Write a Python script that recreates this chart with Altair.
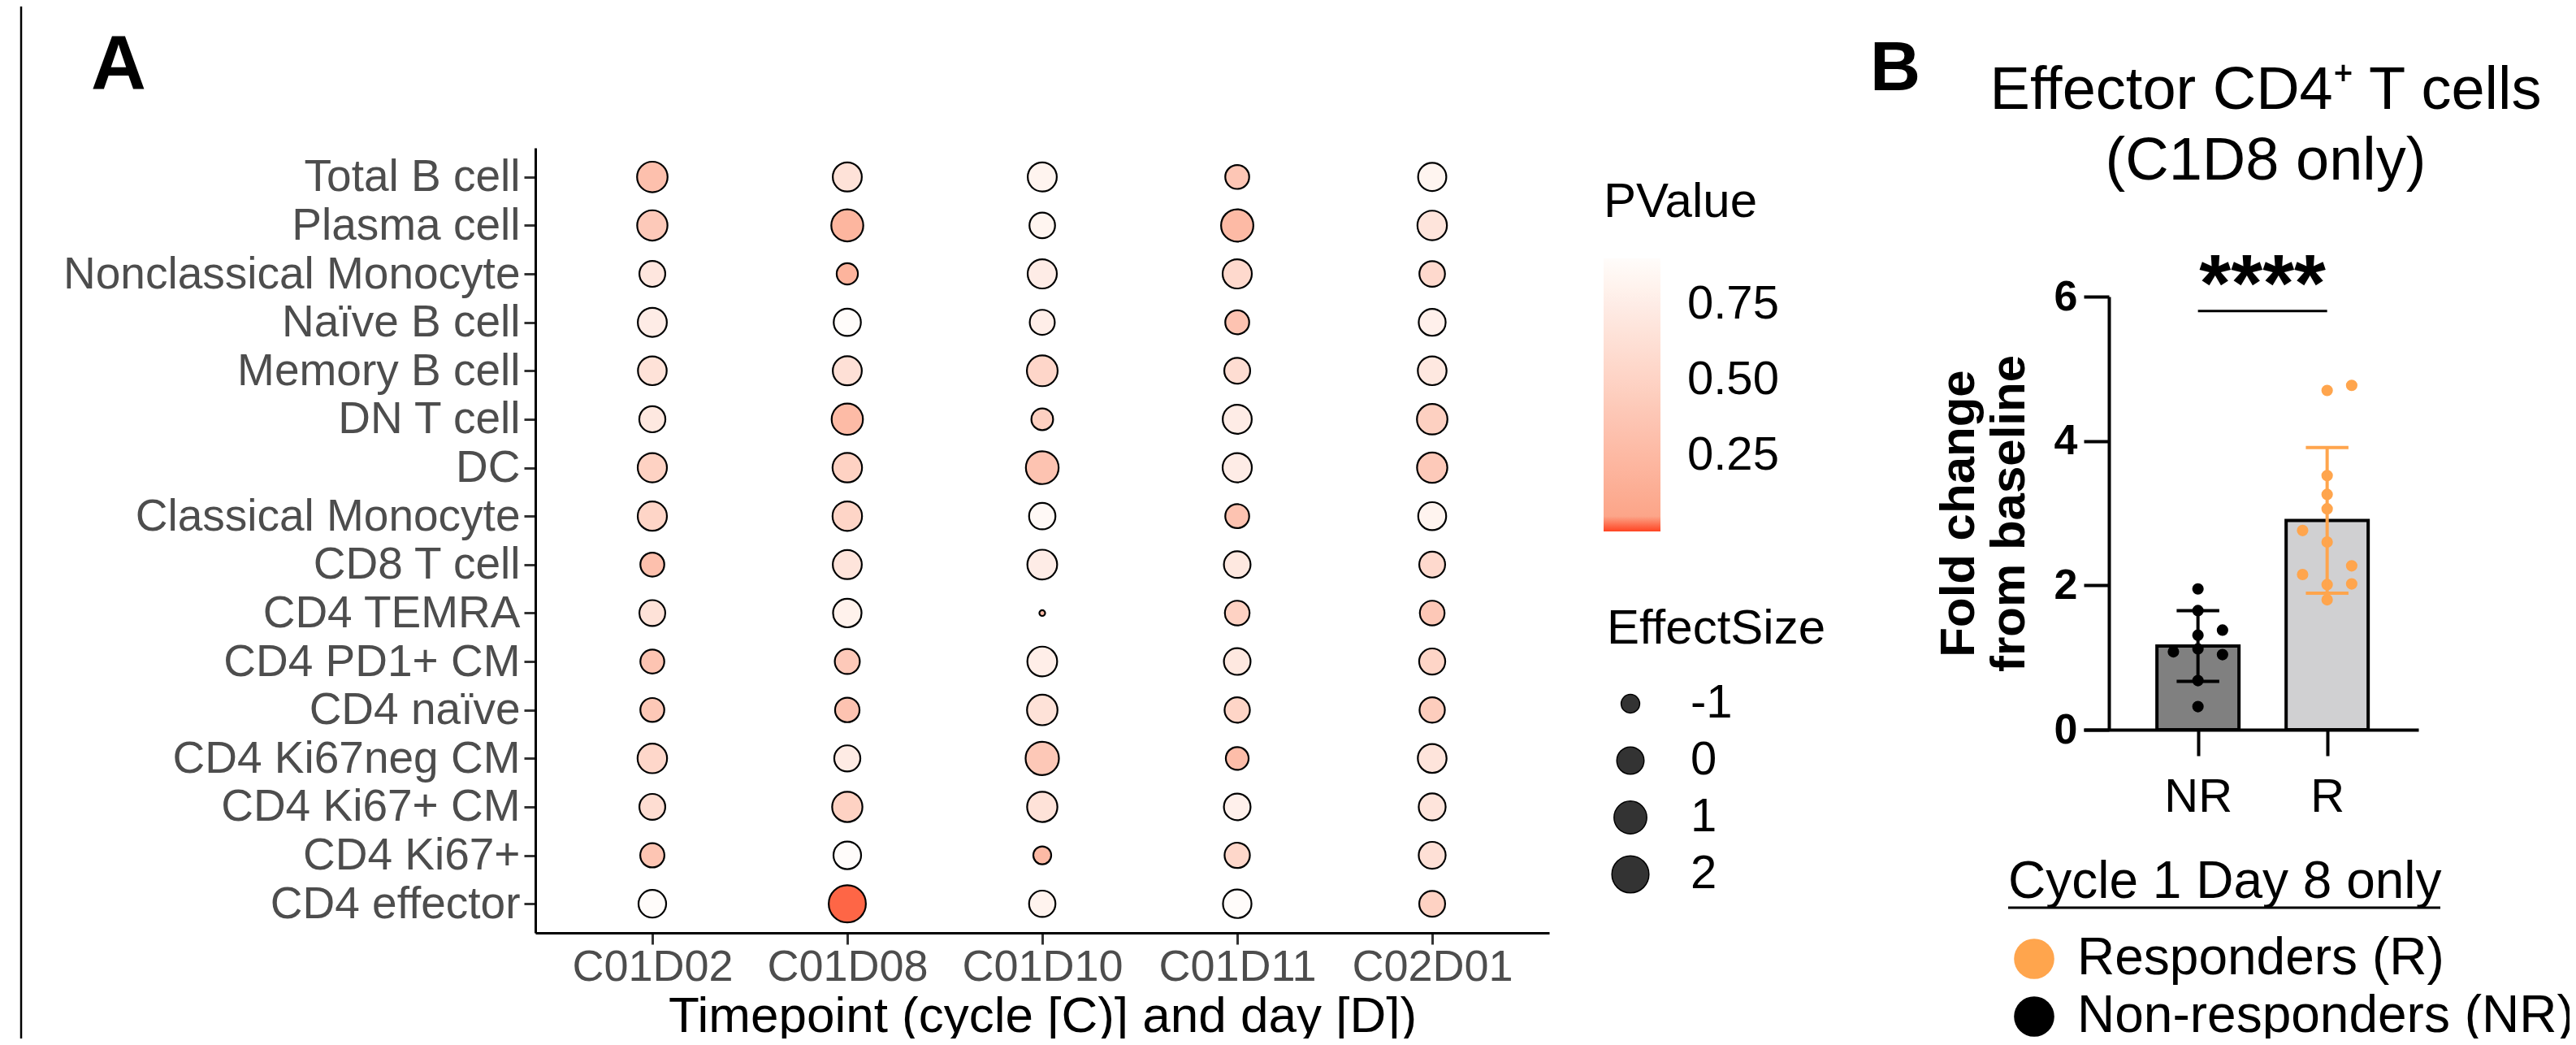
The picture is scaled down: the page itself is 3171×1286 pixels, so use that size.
import json
import altair as alt
import pandas as pd

FONT = "Liberation Sans"
NARROW = "'Liberation Sans Narrow', 'Liberation Sans', sans-serif"

# ---------------- Panel A data ----------------
cell_types = [
    "Total B cell", "Plasma cell", "Nonclassical Monocyte", "Naïve B cell",
    "Memory B cell", "DN T cell", "DC", "Classical Monocyte", "CD8 T cell",
    "CD4 TEMRA", "CD4 PD1+ CM", "CD4 naïve", "CD4 Ki67neg CM", "CD4 Ki67+ CM",
    "CD4 Ki67+", "CD4 effector",
]
timepoints = ["C01D02", "C01D08", "C01D10", "C01D11", "C02D01"]

pval_C01D02 = [0.32, 0.41, 0.69, 0.75, 0.65, 0.71, 0.49, 0.52, 0.32, 0.65, 0.36, 0.40, 0.54, 0.60, 0.37, 0.90]
pval_C01D08 = [0.65, 0.22, 0.20, 0.90, 0.63, 0.27, 0.49, 0.52, 0.67, 0.80, 0.41, 0.35, 0.74, 0.49, 0.90, 0.016]
pval_C01D10 = [0.82, 0.83, 0.75, 0.77, 0.53, 0.47, 0.35, 0.87, 0.75, 0.26, 0.77, 0.65, 0.40, 0.65, 0.26, 0.81]
pval_C01D11 = [0.38, 0.26, 0.56, 0.35, 0.60, 0.75, 0.75, 0.35, 0.71, 0.49, 0.71, 0.52, 0.29, 0.79, 0.54, 0.90]
pval_C02D01 = [0.83, 0.67, 0.56, 0.79, 0.71, 0.47, 0.41, 0.82, 0.56, 0.40, 0.52, 0.44, 0.67, 0.67, 0.63, 0.49]

eff_C01D02 = [0.55, 0.51, -0.20, 0.29, 0.24, -0.17, 0.32, 0.32, -0.46, -0.20, -0.46, -0.46, 0.37, -0.20, -0.43, 0.06]
eff_C01D08 = [0.29, 0.84, -0.76, -0.01, 0.29, 0.70, 0.37, 0.37, 0.29, 0.20, -0.32, -0.39, -0.17, 0.51, 0.06, 2.03]
eff_C01D10 = [0.29, -0.24, 0.32, -0.32, 0.60, -0.71, 1.00, -0.13, 0.42, -1.50, 0.42, 0.55, 1.12, 0.51, -1.05, -0.13]
eff_C01D11 = [-0.46, 0.90, 0.32, -0.46, -0.20, 0.29, 0.32, -0.46, -0.09, -0.36, -0.09, -0.28, -0.59, -0.09, -0.28, 0.20]
eff_C02D01 = [0.15, 0.37, -0.24, -0.05, 0.24, 0.55, 0.51, 0.11, -0.20, -0.36, -0.17, -0.28, 0.24, -0.05, -0.05, -0.20]

pval_ticks = [0.25, 0.50, 0.75]
size_legend_values = [-1, 0, 1, 2]
SIZE_MIN, SIZE_MAX = -1.5, 2.1
PV_MIN, PV_KNEE, PV_MAX = 0.0, 0.045, 0.902

# ---------------- Panel B data ----------------
groups = ["NR", "R"]
group_labels = ["Non-responders (NR)", "Responders (R)"]
bar_means = [1.16, 2.90]
bar_sds = [0.49, 1.01]
nr_values = [1.95, 1.65, 1.31, 1.38, 1.08, 1.12, 1.04, 0.68, 0.32]
nr_slots = [0, 0, 0, 1, -1, 0, 1, 0, 0]
r_values = [4.70, 4.77, 3.52, 3.26, 3.06, 2.76, 2.60, 2.27, 2.15, 2.01, 2.02, 1.80]
r_slots = [0, 1, 0, 0, 0, -1, 0, 1, -1, 0, 1, 0]
sig_text = "****"
sig_level = 5.8
y_ticks_B = [0, 2, 4, 6]

# ---------------- frames ----------------
recs = []
for tp, pl, el in zip(timepoints,
                      [pval_C01D02, pval_C01D08, pval_C01D10, pval_C01D11, pval_C02D01],
                      [eff_C01D02, eff_C01D08, eff_C01D10, eff_C01D11, eff_C02D01]):
    for ct, p, e in zip(cell_types, pl, el):
        recs.append({"Timepoint": tp, "CellType": ct, "PValue": p, "EffectSize": e})
dfA = pd.DataFrame(recs)

pts = []
for gi, vals, slots in [(0, nr_values, nr_slots), (1, r_values, r_slots)]:
    for v, s in zip(vals, slots):
        pts.append({"gidx": gi, "Group": group_labels[gi], "value": v, "slot": s})
dfPts = pd.DataFrame(pts)
dfBars = pd.DataFrame({"gidx": [0, 1], "grp": groups, "Group": group_labels,
                       "mean": bar_means, "sd": bar_sds})
dfSig = pd.DataFrame({"x1": [0], "x2": [1], "y": [sig_level], "t": [sig_text]})

# ---------------- Panel A ----------------
axXA = alt.Axis(title="Timepoint (cycle [C)] and day [D])", orient="bottom", offset=-130,
                labelAngle=0, labelFontSize=54, labelColor="#4D4D4D", labelPadding=1,
                tickSize=14, tickWidth=3, tickColor="#333333", domainColor="black",
                domainWidth=3, titleFontSize=62, titleFontWeight="normal",
                titleColor="black", titlePadding=3, grid=False, labelLimit=2000)
axYA = alt.Axis(title=None, orient="left", offset=-651, labelFontSize=55,
                labelColor="#4D4D4D", labelPadding=5, tickSize=14, tickWidth=3,
                tickColor="#333333", domainColor="black", domainWidth=3, grid=False,
                labelLimit=2000)

dots = alt.Chart(dfA).transform_calculate(
    es_shift=f"datum.EffectSize - ({SIZE_MIN})"
).mark_circle(stroke="black", strokeWidth=2.2, opacity=1).encode(
    x=alt.X("Timepoint:N", scale=alt.Scale(type="point", domain=timepoints,
                                           range=[651, 1899], padding=0.6), axis=axXA),
    y=alt.Y("CellType:N", scale=alt.Scale(type="point", domain=cell_types,
                                          range=[174, 1140], padding=0.6), axis=axYA),
    color=alt.Color("PValue:Q",
                    scale=alt.Scale(domain=[PV_MIN, PV_KNEE, PV_MAX],
                                    range=["#FF4422", "#FCA488", "#FFFCFA"],
                                    interpolate="rgb"),
                    legend=alt.Legend(title="PValue", orient="none", legendX=1966,
                                      legendY=212, direction="vertical",
                                      gradientLength=336, gradientThickness=70,
                                      gradientStrokeWidth=0, values=pval_ticks,
                                      format=".2f", labelFontSize=58, labelOffset=33,
                                      labelColor="black", titleFontSize=60,
                                      titleColor="black", titlePadding=38,
                                      labelOverlap=False)),
    size=alt.Size("es_shift:Q",
                  scale=alt.Scale(type="pow", exponent=0.75,
                                  domain=[0, SIZE_MAX - SIZE_MIN], range=[50, 2124],
                                  zero=False),
                  legend=alt.Legend(title="EffectSize", orient="none", legendX=1970,
                                    legendY=737,
                                    values=[v - SIZE_MIN for v in size_legend_values],
                                    labelExpr=f"'' + round(datum.value + ({SIZE_MIN}))",
                                    symbolFillColor="#333333", symbolStrokeColor="black",
                                    symbolStrokeWidth=1.5, symbolOpacity=1,
                                    symbolType="circle", labelFontSize=58,
                                    labelOffset=45, labelColor="black",
                                    titleFontSize=60, titleColor="black",
                                    titlePadding=32, rowPadding=12)),
)

# ---------------- Panel B ----------------
xB = alt.Scale(domain=[-0.853, 1.675], range=[2557, 2969], nice=False, zero=False)
yB = alt.Scale(domain=[0, 6], range=[890, 357], nice=False, zero=False)
axXB = alt.Axis(values=[0, 1], labelExpr=json.dumps(groups) + "[datum.value]",
                orient="bottom", offset=-380, tickSize=32, tickWidth=4, tickColor="black",
                domainColor="black", domainWidth=4, labelFontSize=58, labelColor="black",
                labelPadding=22, labelFlush=False, title=None, grid=False)
axYB = alt.Axis(values=y_ticks_B, orient="left", offset=-2588, tickSize=31, tickWidth=4,
                tickColor="black", domainColor="black", domainWidth=4, labelFontSize=52,
                labelFontWeight="bold", labelColor="black", labelPadding=8,
                labelFlush=False, title=["Fold change", "from baseline"],
                titleFontSize=60, titleFontWeight="bold", titleColor="black",
                titlePadding=24, grid=False)
grpColor = alt.Scale(domain=[group_labels[1], group_labels[0]], range=["#FFA54D", "#000000"])
legB = alt.Legend(title="Cycle 1 Day 8 only", orient="none", legendX=2464, legendY=1046,
                  symbolSize=2460, symbolType="circle", symbolStrokeWidth=0,
                  symbolOpacity=1, labelFontSize=64, labelOffset=21, labelColor="black",
                  titleFontSize=64, titleColor="black", titlePadding=30, rowPadding=7,
                  labelLimit=2000, titleLimit=2000)

bars = alt.Chart(dfBars).mark_bar(size=101, orient="vertical", stroke="black",
                                  strokeWidth=4).encode(
    x=alt.X("gidx:Q", scale=xB, axis=axXB),
    y=alt.Y("mean:Q", scale=yB, axis=axYB),
    fill=alt.Fill("grp:N", scale=alt.Scale(domain=groups, range=["#808080", "#D0D0D2"]),
                  legend=None),
)
points = alt.Chart(dfPts).transform_calculate(
    xpos="datum.gidx + datum.slot * 0.19"
).mark_circle(size=200, opacity=1).encode(
    x=alt.X("xpos:Q", scale=xB, axis=axXB),
    y=alt.Y("value:Q", scale=yB, axis=axYB),
    color=alt.Color("Group:N", scale=grpColor, legend=legB),
)
errbase = alt.Chart(dfBars).transform_calculate(
    lo="datum.mean - datum.sd", hi="datum.mean + datum.sd",
    c1="datum.gidx - 0.165", c2="datum.gidx + 0.165",
)
strokeEnc = alt.Stroke("Group:N", scale=grpColor, legend=None)
err_v = errbase.mark_rule(strokeWidth=4).encode(
    x=alt.X("gidx:Q", scale=xB, axis=axXB),
    y=alt.Y("lo:Q", scale=yB, axis=axYB), y2="hi:Q", stroke=strokeEnc)
err_lo = errbase.mark_rule(strokeWidth=4).encode(
    x=alt.X("c1:Q", scale=xB, axis=axXB), x2="c2:Q",
    y=alt.Y("lo:Q", scale=yB, axis=axYB), stroke=strokeEnc)
err_hi = errbase.mark_rule(strokeWidth=4).encode(
    x=alt.X("c1:Q", scale=xB, axis=axXB), x2="c2:Q",
    y=alt.Y("hi:Q", scale=yB, axis=axYB), stroke=strokeEnc)
sig_line = alt.Chart(dfSig).mark_rule(strokeWidth=3, color="black").encode(
    x=alt.X("x1:Q", scale=xB, axis=axXB), x2="x2:Q",
    y=alt.Y("y:Q", scale=yB, axis=axYB))
sig_star = alt.Chart(dfSig).transform_calculate(
    xm="(datum.x1 + datum.x2) / 2", ys="datum.y"
).mark_text(fontSize=100, fontWeight="bold", align="center", baseline="alphabetic",
            color="black").encode(
    x=alt.X("xm:Q", scale=xB, axis=axXB),
    y=alt.Y("ys:Q", scale=yB, axis=axYB), text="t:N")

panelB = alt.layer(bars, points, err_v, err_lo, err_hi, sig_line, sig_star)

# ---------------- annotations ----------------
def label(txt, x, y, size, weight="normal", align="left", font=FONT):
    return alt.Chart(pd.DataFrame({"t": [txt]})).mark_text(
        fontSize=size, fontWeight=weight, align=align, baseline="alphabetic",
        color="black", font=font).encode(text="t:N", x=alt.value(x), y=alt.value(y))

labA = label("A", 104, 102, 94, "bold", font=NARROW)
labB = label("B", 2294, 103, 86, "bold")
titl1 = label("Effector CD4\u207a T cells", 2781, 126, 74, align="center")
titl2 = label("(C1D8 only)", 2781, 213, 74, align="center")
one = pd.DataFrame({"k": [0]})
border = alt.Chart(one).mark_rule(color="black", strokeWidth=2.5).encode(
    x=alt.value(18), y=alt.value(0), y2=alt.value(1270))
underline = alt.Chart(one).mark_rule(color="black", strokeWidth=3).encode(
    x=alt.value(2464), x2=alt.value(2996), y=alt.value(1109))

chart = alt.layer(dots, panelB, border, labA, labB, titl1, titl2, underline).resolve_scale(
    x="independent", y="independent", color="independent", size="independent",
    fill="independent", stroke="independent"
).properties(
    width=3155, height=1270, autosize=alt.AutoSizeParams(type="none"), padding=0
).configure(font=FONT).configure_view(stroke=None).configure_axis(
    labelFont=FONT, titleFont=FONT
).configure_legend(labelFont=FONT, titleFont=FONT, titleFontWeight="normal",
                   labelLimit=2000, titleLimit=2000)

chart.save("out.html", embed_options={"renderer": "svg", "actions": False})
